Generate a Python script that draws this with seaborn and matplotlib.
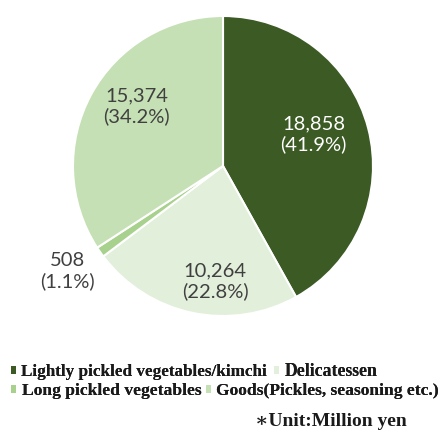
import matplotlib
matplotlib.use("Agg")
import matplotlib.pyplot as plt
import matplotlib.patches as mpatches
import seaborn as sns
import numpy as np

categories = ["Lightly pickled vegetables/kimchi", "Delicatessen",
              "Long pickled vegetables", "Goods(Pickles, seasoning etc.)"]
values = [18858, 10264, 508, 15374]
percents = ["41.9%", "22.8%", "1.1%", "34.2%"]
colors = ["#3B5A24", "#E2EFDA", "#A9D18E", "#C5E0B4"]

sns.set_theme(style="white")
plt.rcParams['font.family'] = ['Lato', 'DejaVu Sans']

fig = plt.figure(figsize=(4.47, 4.33), dpi=100)
W, H = 447, 433
cx, cy, r = 223, 166, 150
ax = fig.add_axes([(cx - r) / W, (H - cy - r) / H, 2 * r / W, 2 * r / H])

wedges, _ = ax.pie(values, colors=colors, startangle=90, counterclock=False,
                   radius=1.0, wedgeprops=dict(edgecolor="white", linewidth=1.5))
ax.set_xlim(-1, 1)
ax.set_ylim(-1, 1)
ax.set_aspect("equal")
ax.axis("off")

# label placement (angle offset in degrees, radial distance)
label_pos = [(5, 0.64), (8, 0.77), (-1, 1.25), (-6, 0.70)]
label_colors = ["white", "#404040", "#404040", "#404040"]
for w, v, p, (da, d), c in zip(wedges, values, percents, label_pos, label_colors):
    mid = np.deg2rad((w.theta1 + w.theta2) / 2 + da)
    ax.text(d * np.cos(mid), d * np.sin(mid), f"{v:,}\n({p})", ha="center",
            va="center", fontsize=14.5, color=c, linespacing=1.2)

serif = ['Liberation Serif', 'DejaVu Serif']
# (marker x, row y, font size) for each legend entry
leg_xy = [(11, 372, 12.3), (274, 372, 12.8), (11, 391, 12.6), (206, 391, 12.6)]
for w, cat, (lx, ly, fs) in zip(wedges, categories, leg_xy):
    h = mpatches.Patch(facecolor=w.get_facecolor(), edgecolor="none")
    l = fig.legend([h], [cat], bbox_to_anchor=(lx / W, 1 - ly / H), frameon=False,
                   handlelength=0.3, handleheight=0.3, handletextpad=0.3,
                   borderpad=0, borderaxespad=0, loc="center left",
                   prop=dict(family=serif, weight="bold", size=fs))
    for t in l.get_texts():
        t.set_color("#1a1a1a")
    fig.add_artist(l)

fig.text(407 / W, 1 - 422 / H, "\u2217Unit:Million yen", ha="right", va="center",
         family=serif, weight="bold", fontsize=14, color="#1a1a1a")

fig.savefig("out.png", dpi=100)
